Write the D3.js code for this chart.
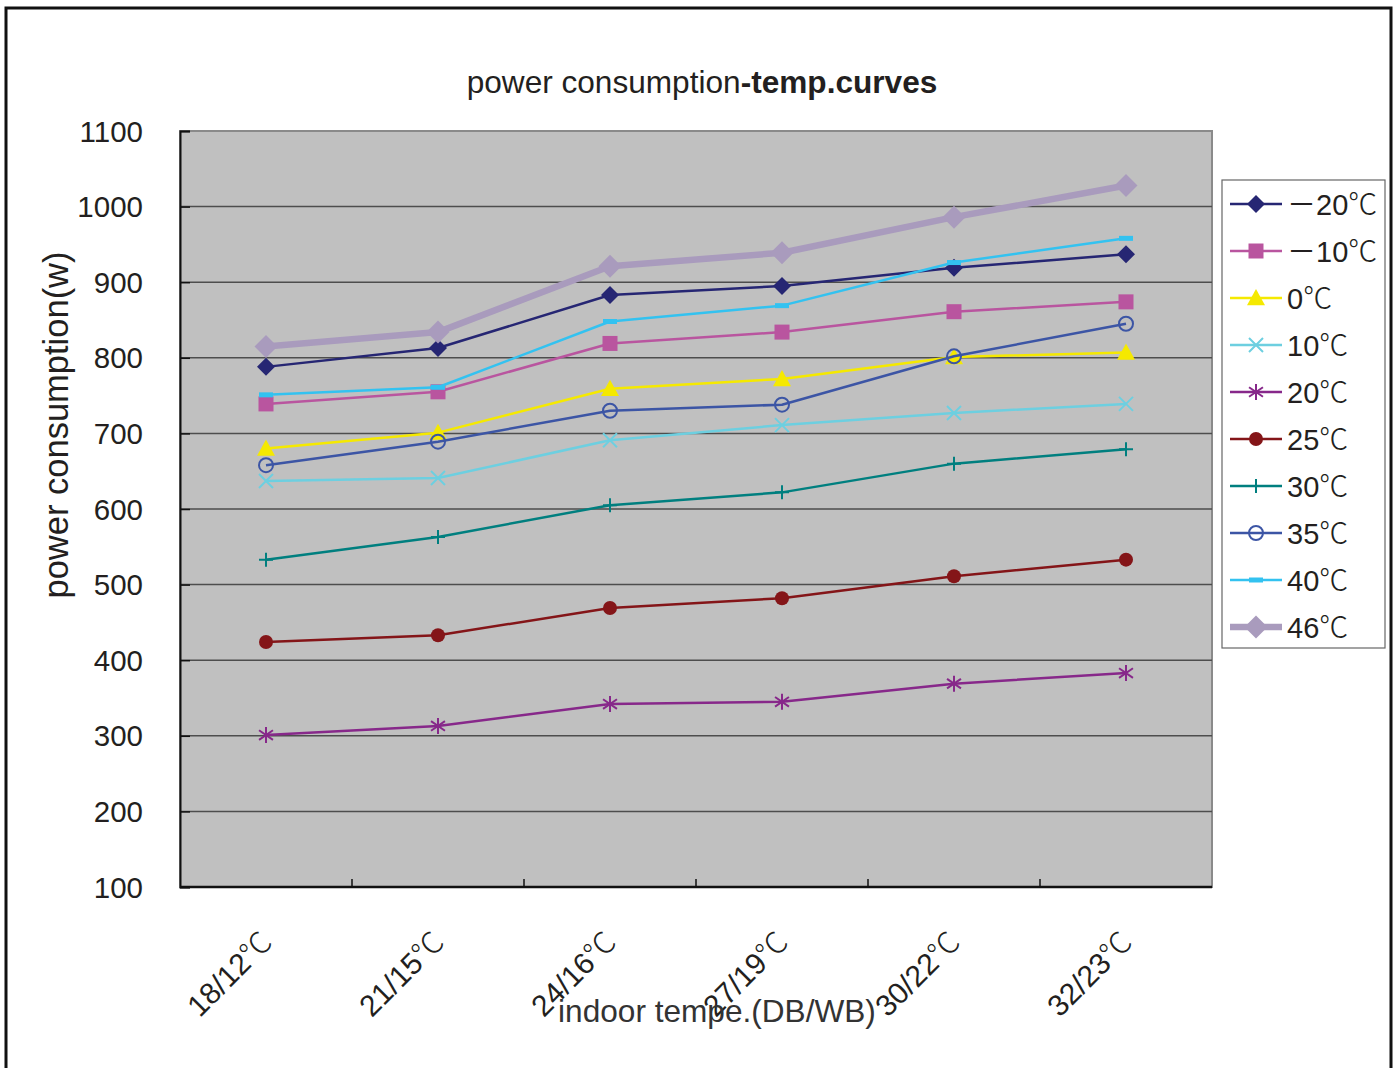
<!DOCTYPE html>
<html>
<head>
<meta charset="utf-8">
<script src="https://cdn.jsdelivr.net/npm/d3@7"></script>
<style>
  body { margin: 0; background: #fff; }
  text { font-family: "Liberation Sans", Arial, "Noto Sans CJK SC", sans-serif; fill: #231f20; }
  .cjk { font-family: "Noto Sans CJK SC", sans-serif; font-weight: 300; }
</style>
</head>
<body>
<svg id="chart"></svg>
<script>
// chart values
var categories = ['18/12℃', '21/15℃', '24/16℃', '27/19℃', '30/22℃', '32/23℃'];
var yTicks = [100, 200, 300, 400, 500, 600, 700, 800, 900, 1000, 1100];
var seriesNames = ['－20℃', '－10℃', '0℃', '10℃', '20℃', '25℃', '30℃', '35℃', '40℃', '46℃'];
var valsM20 = [788, 813, 883, 895, 919, 937];
var valsM10 = [739, 755, 819, 834, 861, 874];
var vals0 = [680, 701, 759, 772, 801, 807];
var vals10 = [637, 641, 691, 711, 727, 739];
var vals20 = [301, 313, 342, 345, 369, 383];
var vals25 = [424, 433, 469, 482, 511, 533];
var vals30 = [533, 563, 605, 622, 660, 679];
var vals35 = [658, 689, 730, 738, 802, 845];
var vals40 = [751, 761, 848, 869, 926, 958];
var vals46 = [815, 834, 921, 939, 986, 1028];

// styles per series
var styles = [
  { color: '#262673', width: 2.5, marker: 'diamond', size: 9 },
  { color: '#b9559f', width: 2.5, marker: 'square', size: 7.5 },
  { color: '#f5e900', width: 2.5, marker: 'triangle', size: 9 },
  { color: '#6dcfe0', width: 2.5, marker: 'x', size: 7 },
  { color: '#87288a', width: 2.5, marker: 'asterisk', size: 8 },
  { color: '#841518', width: 2.5, marker: 'dot', size: 7 },
  { color: '#007f7f', width: 2.5, marker: 'plus', size: 7 },
  { color: '#3c55a5', width: 2.5, marker: 'ring', size: 7 },
  { color: '#33c2f0', width: 2.5, marker: 'dash', size: 7 },
  { color: '#a99bbd', width: 6.5, marker: 'diamond', size: 11.5 }
];

var series = [valsM20, valsM10, vals0, vals10, vals20, vals25, vals30, vals35, vals40, vals46]
  .map(function(v, i) {
    return { name: seriesNames[i], values: v, style: styles[i] };
  });

var config = { width: 1397, height: 1068 };
var plot = { left: 180, top: 131, right: 1212, bottom: 887 };

// writes a label, putting the ℃ sign in the CJK face like the original
function degText(sel, label) {
  var parts = label.split('℃');
  sel.append('tspan').text(parts[0]);
  if (parts.length > 1) sel.append('tspan').attr('class', 'cjk').text('℃');
}

var svg = d3.select('#chart')
  .attr('width', config.width)
  .attr('height', config.height);

// outer frame
svg.append('rect')
  .attr('x', 6).attr('y', 8)
  .attr('width', 1385).attr('height', 1090)
  .attr('fill', '#fff')
  .attr('stroke', '#111').attr('stroke-width', 3);

// scales
var x = d3.scaleBand().domain(categories).range([plot.left, plot.right]).padding(0);
var y = d3.scaleLinear().domain([100, 1100]).range([plot.bottom, plot.top]);
var cx = function(c) { return x(c) + x.bandwidth() / 2; };

// plot background
svg.append('rect')
  .attr('x', plot.left).attr('y', plot.top)
  .attr('width', plot.right - plot.left).attr('height', plot.bottom - plot.top)
  .attr('fill', '#c0c0c0')
  .attr('stroke', '#8a8a8a').attr('stroke-width', 2);

// gridlines
svg.append('g')
  .selectAll('line')
  .data(yTicks.slice(1, -1))
  .enter().append('line')
  .attr('x1', plot.left).attr('x2', plot.right)
  .attr('y1', function(d) { return y(d); })
  .attr('y2', function(d) { return y(d); })
  .attr('stroke', '#4d4d4d').attr('stroke-width', 1.5);

// y axis
var yAxis = svg.append('g')
  .attr('transform', 'translate(' + plot.left + ',0)')
  .call(d3.axisRight(y).tickValues(yTicks).tickSize(10).tickFormat(''));
yAxis.select('.domain').attr('stroke', '#111').attr('stroke-width', 2);
yAxis.selectAll('.tick line').attr('stroke', '#111').attr('stroke-width', 1.5);

svg.append('g')
  .selectAll('text')
  .data(yTicks)
  .enter().append('text')
  .attr('x', 143)
  .attr('y', function(d) { return y(d) + 10.5; })
  .attr('text-anchor', 'end')
  .style('font-size', '29.5px')
  .text(function(d) { return d; });

// x axis: ticks at band boundaries, pointing up into the plot
var xAxis = svg.append('g')
  .attr('transform', 'translate(0,' + plot.bottom + ')');
xAxis.append('line')
  .attr('x1', plot.left).attr('x2', plot.right)
  .attr('stroke', '#111').attr('stroke-width', 2.5);
xAxis.selectAll('.tk')
  .data(categories.slice(1))
  .enter().append('line')
  .attr('class', 'tk')
  .attr('x1', function(d) { return x(d); })
  .attr('x2', function(d) { return x(d); })
  .attr('y1', 0).attr('y2', -8)
  .attr('stroke', '#111').attr('stroke-width', 1.5);

svg.append('g')
  .selectAll('text')
  .data(categories)
  .enter().append('text')
  .attr('transform', function(d) {
    return 'translate(' + (cx(d) + 8) + ',944) rotate(-45)';
  })
  .attr('text-anchor', 'end')
  .style('font-size', '30px')
  .each(function(d) { degText(d3.select(this), d); });

// titles
var title = svg.append('text')
  .attr('x', 702).attr('y', 93)
  .attr('text-anchor', 'middle')
  .style('font-size', '31.6px');
title.append('tspan').text('power consumption');
title.append('tspan').style('font-weight', 'bold').text('-temp.curves');

svg.append('text')
  .attr('transform', 'translate(68,425) rotate(-90)')
  .attr('text-anchor', 'middle')
  .style('font-size', '34.5px')
  .text('power consumption(w)');

svg.append('text')
  .attr('x', 717).attr('y', 1022)
  .attr('text-anchor', 'middle')
  .style('font-size', '31.6px')
  .style('fill', '#333')
  .text('indoor tempe.(DB/WB)');

// marker shapes
function markerPath(type, s) {
  switch (type) {
    case 'diamond': return 'M0,' + -s + 'L' + s + ',0L0,' + s + 'L' + -s + ',0Z';
    case 'square': return 'M' + -s + ',' + -s + 'H' + s + 'V' + s + 'H' + -s + 'Z';
    case 'triangle': return 'M0,' + -s + 'L' + s + ',' + s * 0.8 + 'L' + -s + ',' + s * 0.8 + 'Z';
    case 'x': return 'M' + -s + ',' + -s + 'L' + s + ',' + s + 'M' + s + ',' + -s + 'L' + -s + ',' + s;
    case 'plus': return 'M0,' + -s + 'V' + s + 'M' + -s + ',0H' + s;
    case 'asterisk':
      return 'M0,' + -s + 'V' + s +
        'M' + -s * 0.87 + ',' + -s * 0.6 + 'L' + s * 0.87 + ',' + s * 0.6 +
        'M' + s * 0.87 + ',' + -s * 0.6 + 'L' + -s * 0.87 + ',' + s * 0.6;
    case 'dash': return 'M' + -s + ',-2.5H' + s + 'V2.5H' + -s + 'Z';
    default: return d3.symbol().type(d3.symbolCircle).size(Math.PI * s * s)();
  }
}

function drawMarker(sel, st) {
  var filled = ['diamond', 'square', 'triangle', 'dot', 'dash'].indexOf(st.marker) >= 0;
  sel.append('path')
    .attr('d', markerPath(st.marker, st.size))
    .attr('fill', filled ? st.color : 'none')
    .attr('stroke', st.color)
    .attr('stroke-width', filled ? 0 : 2);
}

// lines
var line = d3.line()
  .x(function(d, i) { return cx(categories[i]); })
  .y(function(d) { return y(d); });

var gSeries = svg.append('g')
  .selectAll('g')
  .data(series)
  .enter().append('g');

gSeries.append('path')
  .attr('d', function(d) { return line(d.values); })
  .attr('fill', 'none')
  .attr('stroke', function(d) { return d.style.color; })
  .attr('stroke-width', function(d) { return d.style.width; })
  .attr('stroke-linejoin', 'round');

gSeries.each(function(s) {
  d3.select(this).selectAll('g.pt')
    .data(s.values)
    .enter().append('g')
    .attr('class', 'pt')
    .attr('transform', function(d, i) {
      return 'translate(' + cx(categories[i]) + ',' + y(d) + ')';
    })
    .each(function() { drawMarker(d3.select(this), s.style); });
});

// legend
var legend = svg.append('g').attr('transform', 'translate(1222,180)');
legend.append('rect')
  .attr('width', 163).attr('height', 468)
  .attr('fill', '#fff')
  .attr('stroke', '#666').attr('stroke-width', 1.2);

var item = legend.selectAll('g.item')
  .data(series)
  .enter().append('g')
  .attr('class', 'item')
  .attr('transform', function(d, i) { return 'translate(0,' + (24 + i * 47) + ')'; });

item.append('line')
  .attr('x1', 8).attr('x2', 60)
  .attr('stroke', function(d) { return d.style.color; })
  .attr('stroke-width', function(d) { return d.style.width; });

item.append('g')
  .attr('transform', 'translate(34,0)')
  .each(function(d) { drawMarker(d3.select(this), d.style); });

item.append('text')
  .attr('x', 65).attr('y', 11)
  .style('font-size', '29px')
  .each(function(d) { degText(d3.select(this), d.name); });
</script>
</body>
</html>
